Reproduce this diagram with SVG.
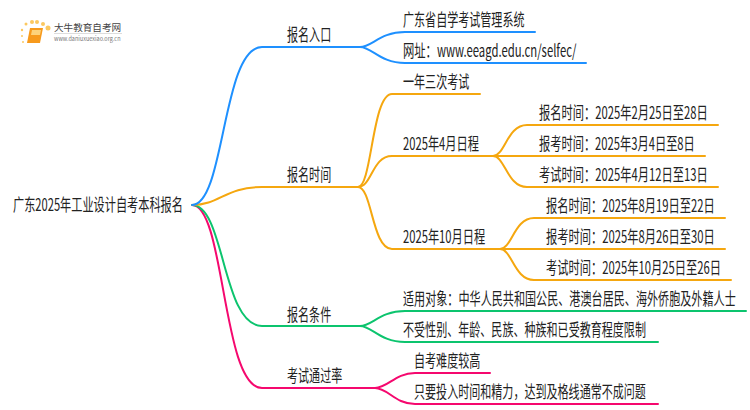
<svg xmlns="http://www.w3.org/2000/svg" width="750" height="410" viewBox="0 0 750 410">
<style>
text{font-family:"Noto Sans CJK SC","Noto Sans",sans-serif;font-size:17px;fill:#222}
.c{fill:none;stroke-width:2;stroke-linecap:round}
.b{stroke:#1e90ff}.o{stroke:#f5a70f}.g{stroke:#0cc46e}.p{stroke:#f5086e}
.d{fill:#fbc860}
</style>
<rect width="750" height="410" fill="#fff"/>
<g id="connectors">
<path class="c p" d="M192 205C225 205 222 388 262 388H375C388 388 395 373 415 373H490"/>
<path class="c p" d="M375 388C388 388 395 404 415 404H658"/>
<path class="c g" d="M192 205C225 205 222 326 262 326H360C372 326 380 311 405 311H746"/>
<path class="c g" d="M360 326C372 326 380 342 405 342H658"/>
<path class="c o" d="M192 205C220 205 225 187 262 187H358C372 187 372 94 392 94H480"/>
<path class="c o" d="M358 187C372 187 372 156 392 156H493C505 156 507 125 527 125H718"/>
<path class="c o" d="M493 156H705"/>
<path class="c o" d="M493 156C505 156 507 187 527 187H718"/>
<path class="c o" d="M358 187C372 187 372 249 392 249H500C512 249 514 218 534 218H725"/>
<path class="c o" d="M500 249H725"/>
<path class="c o" d="M500 249C512 249 514 280 534 280H731"/>
<path class="c b" d="M192 205C225 205 222 47 262 47H360C372 47 380 32 405 32H535"/>
<path class="c b" d="M360 47C372 47 380 63 405 63H586"/>
</g>
<g id="logo">
<circle class="d" cx="48" cy="28" r="2.5"/><circle class="d" cx="43" cy="24" r="2"/><circle class="d" cx="37" cy="22" r="2"/><circle class="d" cx="32" cy="22" r="2"/><circle class="d" cx="26" cy="24" r="1.5"/><circle class="d" cx="22" cy="30" r="1.2"/><circle class="d" cx="22" cy="36" r="1"/><circle class="d" cx="23" cy="42" r="1"/>
<path d="M30 28H43L40 43H27Z" fill="#f79a1c"/><path d="M32 30H41L40 35H31Z" fill="#fdd27a"/>
<text transform="translate(54 31)" style="font-size:9.6px;fill:#444">大牛教育自考网</text>
<rect x="54" y="33" width="68" height="1" fill="#ddd"/>
<text transform="translate(54 41) scale(.92 1)" style="font-size:6px;fill:#777">www.daniuxuexiao.org.cn</text>
</g>
<g id="root"><text transform="translate(13 211) scale(.657 1)">广东2025年工业设计自考本科报名</text></g>
<g id="n1"><text transform="translate(287 41) scale(.65 1)">报名入口</text></g>
<g id="n2"><text transform="translate(287 181) scale(.65 1)">报名时间</text></g>
<g id="n3"><text transform="translate(287 321) scale(.65 1)">报名条件</text></g>
<g id="n4"><text transform="translate(287 382) scale(.65 1)">考试通过率</text></g>
<g id="n5"><text transform="translate(403 26) scale(.65 1)">广东省自学考试管理系统</text></g>
<g id="n6"><text transform="translate(403 57) scale(.665 1)">网址：www.eeagd.edu.cn/selfec/</text></g>
<g id="n7"><text transform="translate(403 88) scale(.65 1)">一年三次考试</text></g>
<g id="n8"><text transform="translate(403 150) scale(.66 1)">2025年4月日程</text></g>
<g id="n9"><text transform="translate(539 119) scale(.663 1)">报名时间：2025年2月25日至28日</text></g>
<g id="n10"><text transform="translate(539 150) scale(.661 1)">报考时间：2025年3月4日至8日</text></g>
<g id="n11"><text transform="translate(539 181) scale(.663 1)">考试时间：2025年4月12日至13日</text></g>
<g id="n12"><text transform="translate(403 243) scale(.66 1)">2025年10月日程</text></g>
<g id="n13"><text transform="translate(546 212) scale(.663 1)">报名时间：2025年8月19日至22日</text></g>
<g id="n14"><text transform="translate(546 243) scale(.663 1)">报考时间：2025年8月26日至30日</text></g>
<g id="n15"><text transform="translate(546 274) scale(.663 1)">考试时间：2025年10月25日至26日</text></g>
<g id="n16"><text transform="translate(403 305) scale(.653 1)">适用对象：中华人民共和国公民、港澳台居民、海外侨胞及外籍人士</text></g>
<g id="n17"><text transform="translate(403 336) scale(.65 1)">不受性别、年龄、民族、种族和已受教育程度限制</text></g>
<g id="n18"><text transform="translate(414 367) scale(.65 1)">自考难度较高</text></g>
<g id="n19"><text transform="translate(414 398) scale(.65 1)">只要投入时间和精力，达到及格线通常不成问题</text></g>
</svg>
